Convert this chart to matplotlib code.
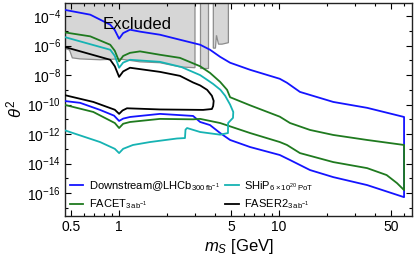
import numpy as np
import matplotlib
matplotlib.use("Agg")
import matplotlib.pyplot as plt
from matplotlib.ticker import FixedLocator, FixedFormatter, NullFormatter

plt.rcParams["font.family"] = ["Liberation Sans", "DejaVu Sans"]
plt.rcParams["mathtext.fontset"] = "custom"
plt.rcParams["mathtext.rm"] = "Liberation Sans"
plt.rcParams["mathtext.it"] = "Liberation Sans:italic"
plt.rcParams["mathtext.bf"] = "Liberation Sans:bold"

# Downstream@LHCb contour (m_S in GeV, log10 theta^2)
ds_m = [0.45, 0.66, 0.88, 0.94, 1.0, 1.06, 1.17, 1.35, 1.8, 2.4, 3.21, 3.7, 4.28,
        4.94, 6.59, 10.1, 11.2, 13.5, 21.8, 35.5, 60.4,
        60.4, 35.5, 21.8, 15.6, 11.7, 10.1, 6.59, 4.94, 4.28, 3.7, 3.21, 2.9,
        1.8, 1.17, 1.06, 1.0, 0.93, 0.76, 0.57, 0.45]
ds_lt = [-3.56, -3.90, -4.58, -4.95, -5.53, -5.15, -4.92, -5.05, -5.26, -5.60, -5.94,
         -6.28, -6.76, -7.16, -7.64, -8.25, -8.52, -9.14, -9.82, -10.22, -10.84,
         -16.28, -15.46, -14.92, -14.44, -13.76, -13.42, -12.88, -12.40, -11.93,
         -11.39, -11.18, -10.77, -10.63, -10.84, -10.95, -11.11, -10.75, -10.36,
         -9.88, -9.75]

# FACET contour
fc_m = [0.45, 0.66, 0.88, 0.94, 1.0, 1.06, 1.17, 1.35, 1.8, 2.4, 3.21, 3.7, 4.28,
        4.73, 4.94, 6.59, 10.1, 11.7, 15.6, 21.8, 35.5, 60.4,
        60.4, 54.6, 47.0, 35.5, 21.8, 13.5, 11.2, 10.1, 6.59, 4.28, 3.21, 2.9,
        1.8, 1.17, 1.06, 1.0, 0.94, 0.69, 0.45]
fc_lt = [-5.09, -5.37, -5.94, -6.35, -7.07, -6.7, -6.49, -6.39, -6.62, -6.83, -7.4,
         -7.85, -8.46, -9.0, -9.5, -10.05, -10.82, -11.25, -11.72, -12.06, -12.40,
         -12.74,
         -15.80, -15.33, -14.78, -14.31, -13.90, -13.29, -12.74, -12.54, -11.93,
         -11.25, -10.97, -11.0, -10.97, -11.18, -11.3, -11.59, -11.25, -10.5, -10.0]

# SHiP contour
sh_m = [0.45, 0.88, 0.94, 1.0, 1.06, 1.17, 1.8, 2.45, 3.21, 3.55, 3.87, 4.3, 4.6,
        4.94, 5.17, 5.15, 4.8, 4.79, 4.28, 3.21, 2.66, 2.6, 2.58, 2.3, 1.56, 1.22,
        1.06, 1.0, 0.94, 0.76, 0.45]
sh_lt = [-5.4, -6.28, -6.7, -7.5, -7.15, -6.96, -7.1, -7.45, -8.0, -8.32, -8.6,
         -9.0, -9.4, -10.0, -10.5, -10.9, -11.25, -11.93, -12.04, -11.86, -11.59,
         -11.7, -12.27, -12.3, -12.54, -12.74, -13.0, -13.29, -13.0, -12.54, -11.72]

# FASER2 contour
fa_m = [0.45, 0.88, 0.94, 1.0, 1.06, 1.17, 1.8, 2.4, 2.9, 3.21, 3.55, 3.8, 3.9,
        3.87, 3.8, 3.35, 1.8, 1.12, 1.05, 1.0, 0.94, 0.69, 0.45]
fa_lt = [-6.07, -6.96, -7.4, -8.12, -7.75, -7.5, -7.78, -8.05, -8.5, -8.7, -9.0,
         -9.4, -9.75, -10.1, -10.3, -10.36, -10.33, -10.25, -10.4, -10.63, -10.35,
         -9.82, -9.34]

# excluded regions (lower boundary)
ex1_m = [0.45, 0.49, 0.51, 0.57, 0.76, 1.0, 1.35, 1.8, 2.4, 2.98]
ex1_lt = [-6.15, -6.3, -6.83, -6.9, -6.96, -6.9, -7.1, -7.16, -7.44, -7.5]
ex2_m = [3.21, 3.60]
ex2_lt = [-7.5, -7.5]
ex3_m = [3.88, 4.0, 4.06, 4.18, 4.4, 4.82]
ex3_lt = [-6.17, -6.17, -5.3, -5.9, -5.9, -5.8]

labels = [r"Downstream@LHCb$_{300\,\mathrm{fb}^{-1}}$",
          r"FACET$_{3\,\mathrm{ab}^{-1}}$",
          r"SHiP$_{6\times10^{20}\,\mathrm{PoT}}$",
          r"FASER2$_{3\,\mathrm{ab}^{-1}}$"]

fig = plt.figure(figsize=(4.15, 2.62), dpi=100)
ax = fig.add_axes([0.157, 0.176, 0.836, 0.813])
ax.set_xscale("log")
ax.set_yscale("log")

top = 1e-2
for m, lt in [(ex1_m, ex1_lt), (ex2_m, ex2_lt), (ex3_m, ex3_lt)]:
    xs = [m[0]] + m + [m[-1]]
    ys = [top] + list(10.0 ** np.array(lt)) + [top]
    ax.fill(xs, ys, facecolor="#d6d6d6", edgecolor="#8c8c8c", lw=0.9, zorder=1)

curves = [(ds_m, ds_lt, "#1414ff"), (fc_m, fc_lt, "#1f7a1f"),
          (sh_m, sh_lt, "#16b3b3"), (fa_m, fa_lt, "black")]
handles = []
for m, lt, c in curves:
    h, = ax.plot(m, 10.0 ** np.array(lt), color=c, lw=1.3, zorder=3)
    handles.append(h)

ax.text(1.3, 10 ** -4.55, "Excluded", fontsize=12, ha="center", va="center", zorder=4)

ax.set_xlim(0.46, 67.8)
ax.set_ylim(10 ** -17.55, 10 ** -3.1)

ax.xaxis.set_major_locator(FixedLocator([0.5, 1, 5, 10, 50]))
ax.xaxis.set_major_formatter(FixedFormatter(["0.5", "1", "5", "10", "50"]))
ax.xaxis.set_minor_locator(FixedLocator([0.6, 0.7, 0.8, 0.9, 2, 3, 4, 6, 7, 8, 9,
                                         20, 30, 40, 60]))
ax.xaxis.set_minor_formatter(NullFormatter())
ymaj = [10.0 ** e for e in range(-16, -3, 2)]
ax.yaxis.set_major_locator(FixedLocator(ymaj))
ax.yaxis.set_major_formatter(FixedFormatter([r"$10^{%d}$" % e for e in range(-16, -3, 2)]))
ax.yaxis.set_minor_locator(FixedLocator([10.0 ** e for e in range(-17, -2, 2)]))
ax.yaxis.set_minor_formatter(NullFormatter())
ax.tick_params(which="both", direction="in", top=True, right=True, labelsize=10,
               width=0.8, pad=3)
ax.tick_params(which="major", length=4)
ax.tick_params(which="minor", length=2.5)
for s in ax.spines.values():
    s.set_linewidth(1.0)
    s.set_color("#222222")

ax.set_xlabel(r"$m_S$ [GeV]", fontsize=12, labelpad=2)
ax.set_ylabel(r"$\theta^2$", fontsize=12, labelpad=2)

ax.legend(handles, labels, ncol=2, loc="lower left", bbox_to_anchor=(-0.005, -0.01),
          frameon=False, fontsize=8, handlelength=1.2, handletextpad=0.5,
          columnspacing=0.5, labelspacing=0.4, borderaxespad=0.2)

fig.savefig("out.png", dpi=100)
